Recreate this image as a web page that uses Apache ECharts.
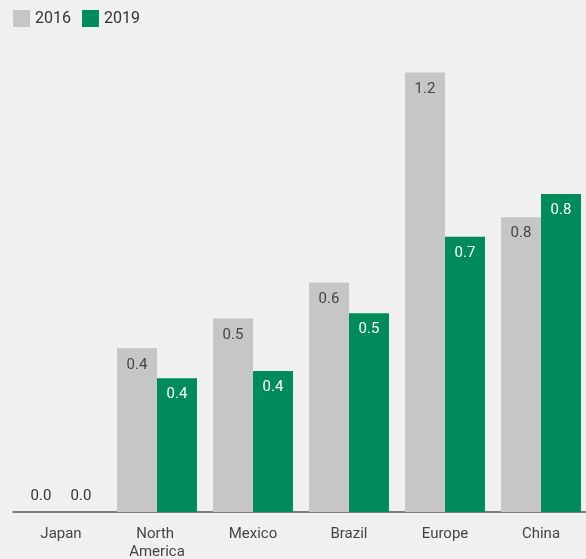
<!DOCTYPE html>
<html>
<head>
<meta charset="utf-8">
<script src="https://cdn.jsdelivr.net/npm/echarts@6/dist/echarts.min.js"></script>
<style>
html,body{margin:0;padding:0;background:#f0f0f0;}
#chart{width:586px;height:559px;}
</style>
</head>
<body>
<div id="chart"></div>
<script>
var categories = ['Japan', 'North America', 'Mexico', 'Brazil', 'Europe', 'China'];
var values2016 = [0, 0.433, 0.512, 0.607, 1.163, 0.780];
var values2019 = [0, 0.354, 0.373, 0.526, 0.728, 0.841];
var seriesNames = ['2016', '2019'];

function toData(arr, zeroColor) {
  return arr.map(function (v) {
    if (v === 0) {
      return { value: v, label: { position: 'top', distance: 8, color: zeroColor } };
    }
    return v;
  });
}

var chart = echarts.init(document.getElementById('chart'));
chart.setOption({
  backgroundColor: '#f0f0f0',
  textStyle: { fontFamily: 'Roboto' },
  animation: false,
  legend: {
    left: 8, top: 5,
    itemWidth: 17, itemHeight: 17, itemGap: 11,
    icon: 'rect',
    textStyle: { fontSize: 16, color: '#333', fontFamily: 'Roboto' },
    data: seriesNames
  },
  grid: { left: 13, top: 58.4, bottom: 47, width: 576, containLabel: false, outerBoundsMode: 'none' },
  xAxis: {
    type: 'category',
    data: categories,
    axisLine: { lineStyle: { color: '#555', width: 1.5 } },
    axisTick: { show: false },
    axisLabel: {
      fontSize: 15, color: '#444', margin: 13, lineHeight: 18,
      width: 70, overflow: 'break', interval: 0
    }
  },
  yAxis: {
    type: 'value', min: 0, max: 1.2,
    show: false,
    splitLine: { show: false }
  },
  series: [
    {
      name: seriesNames[0], type: 'bar',
      data: toData(values2016, '#333'),
      itemStyle: { color: '#c6c6c6' },
      barGap: '0%', barCategoryGap: '16.67%',
      label: {
        show: true, position: 'insideTop', distance: 9,
        fontSize: 15, color: '#444',
        formatter: function (p) { return p.value.toFixed(1); }
      }
    },
    {
      name: seriesNames[1], type: 'bar',
      data: toData(values2019, '#333'),
      itemStyle: { color: '#008c5a' },
      barGap: '0%', barCategoryGap: '16.67%',
      label: {
        show: true, position: 'insideTop', distance: 9,
        fontSize: 15, color: '#fff',
        formatter: function (p) { return p.value.toFixed(1); }
      }
    }
  ]
});
</script>
</body>
</html>
